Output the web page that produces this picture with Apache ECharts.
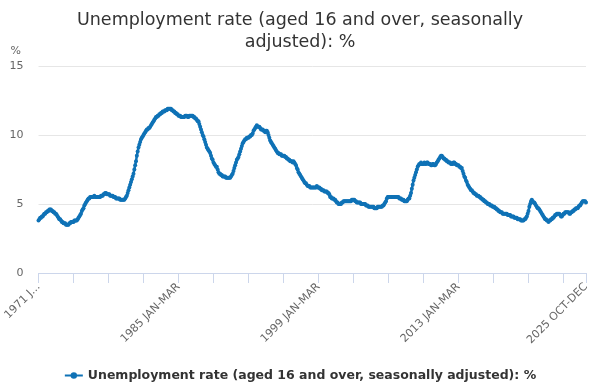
<!DOCTYPE html>
<html>
<head>
<meta charset="utf-8">
<script src="https://cdn.jsdelivr.net/npm/echarts@6/dist/echarts.min.js"></script>
<style>
html,body{margin:0;padding:0;background:#fff;}
#chart{width:600px;height:383px;}
</style>
</head>
<body>
<div id="chart"></div>
<script>
const titleText = 'Unemployment rate (aged 16 and over, seasonally\nadjusted): %';
const seriesName = 'Unemployment rate (aged 16 and over, seasonally adjusted): %';
const firstYear = 1971;
const monthNames = ['JAN','FEB','MAR','APR','MAY','JUN','JUL','AUG','SEP','OCT','NOV','DEC'];
const yTicks = [0, 5, 10, 15];

// Rolling 3-month periods, starting 1971 JAN-MAR, 12 values per year
const rate1970s = [
  3.8,3.9,4.0,4.0,4.1,4.1,4.2,4.3,4.3,4.4,4.4,4.5, // 1971
  4.5,4.6,4.6,4.6,4.5,4.5,4.4,4.4,4.3,4.3,4.2,4.1, // 1972
  4.0,3.9,3.9,3.8,3.7,3.7,3.6,3.6,3.6,3.5,3.5,3.5, // 1973
  3.5,3.6,3.6,3.7,3.7,3.7,3.7,3.8,3.8,3.8,3.8,3.9, // 1974
  4.0,4.1,4.2,4.3,4.5,4.6,4.7,4.9,5.0,5.1,5.2,5.3, // 1975
  5.4,5.4,5.5,5.5,5.5,5.5,5.5,5.6,5.5,5.5,5.5,5.5, // 1976
  5.5,5.5,5.5,5.6,5.6,5.6,5.7,5.7,5.8,5.8,5.7,5.7, // 1977
  5.7,5.7,5.6,5.6,5.6,5.6,5.5,5.5,5.5,5.4,5.4,5.4, // 1978
  5.4,5.4,5.3,5.3,5.3,5.3,5.3,5.3,5.4,5.5,5.6,5.8  // 1979
];
const rate1980s = [
  6.0,6.2,6.4,6.6,6.8,7.0,7.2,7.5,7.8,8.1,8.5,8.8, // 1980
  9.1,9.3,9.5,9.7,9.8,9.9,10.0,10.1,10.2,10.3,10.4,10.4, // 1981
  10.5,10.5,10.6,10.7,10.8,10.9,11.0,11.1,11.2,11.3,11.3,11.4, // 1982
  11.4,11.5,11.5,11.6,11.6,11.7,11.7,11.7,11.8,11.8,11.8,11.9, // 1983
  11.9,11.9,11.9,11.9,11.8,11.8,11.7,11.7,11.6,11.6,11.5,11.5, // 1984
  11.4,11.4,11.4,11.3,11.3,11.3,11.3,11.3,11.4,11.4,11.4,11.3, // 1985
  11.3,11.4,11.4,11.4,11.4,11.4,11.3,11.3,11.2,11.2,11.1,11.0, // 1986
  11.0,10.8,10.6,10.4,10.2,10.0,9.9,9.7,9.5,9.3,9.1,9.0, // 1987
  8.9,8.8,8.7,8.5,8.3,8.2,8.0,7.9,7.8,7.7,7.7,7.5, // 1988
  7.3,7.2,7.2,7.1,7.1,7.0,7.0,7.0,7.0,6.9,6.9,6.9  // 1989
];
const rate1990s = [
  6.9,6.9,6.9,7.0,7.1,7.2,7.4,7.6,7.8,8.0,8.2,8.3, // 1990
  8.4,8.6,8.8,9.0,9.2,9.4,9.5,9.6,9.7,9.7,9.8,9.8, // 1991
  9.8,9.9,9.9,10.0,10.0,10.1,10.3,10.4,10.5,10.6,10.7,10.6, // 1992
  10.6,10.6,10.5,10.4,10.4,10.4,10.3,10.3,10.2,10.3,10.3,10.2, // 1993
  10.0,9.8,9.6,9.5,9.4,9.3,9.2,9.1,9.0,8.9,8.8,8.7, // 1994
  8.7,8.6,8.6,8.6,8.5,8.5,8.5,8.5,8.4,8.4,8.3,8.3, // 1995
  8.2,8.2,8.1,8.1,8.1,8.0,8.1,8.0,7.9,7.8,7.6,7.5, // 1996
  7.3,7.2,7.1,7.0,6.9,6.8,6.7,6.6,6.5,6.5,6.4,6.3, // 1997
  6.3,6.3,6.2,6.2,6.2,6.2,6.2,6.2,6.2,6.2,6.3,6.2, // 1998
  6.2,6.2,6.1,6.1,6.0,6.0,6.0,5.9,5.9,5.9,5.9,5.8  // 1999
];
const rate2000s = [
  5.8,5.7,5.5,5.5,5.4,5.4,5.4,5.3,5.3,5.2,5.1,5.1, // 2000
  5.0,5.0,5.0,5.0,5.1,5.1,5.2,5.2,5.2,5.2,5.2,5.2, // 2001
  5.2,5.2,5.2,5.2,5.3,5.3,5.3,5.3,5.2,5.2,5.1,5.1, // 2002
  5.1,5.1,5.1,5.0,5.0,5.0,5.0,5.0,5.0,4.9,4.9,4.9, // 2003
  4.8,4.8,4.8,4.8,4.8,4.8,4.8,4.7,4.7,4.7,4.7,4.8, // 2004
  4.8,4.8,4.8,4.8,4.8,4.9,4.9,5.0,5.1,5.2,5.4,5.5, // 2005
  5.5,5.5,5.5,5.5,5.5,5.5,5.5,5.5,5.5,5.5,5.5,5.5, // 2006
  5.5,5.4,5.4,5.4,5.3,5.3,5.3,5.2,5.2,5.2,5.2,5.3, // 2007
  5.4,5.4,5.6,5.8,6.1,6.4,6.7,6.9,7.1,7.3,7.5,7.7, // 2008
  7.8,7.9,7.9,8.0,7.9,7.9,7.9,8.0,7.9,7.9,8.0,8.0  // 2009
];
const rate2010s = [
  7.9,7.9,7.9,7.8,7.8,7.9,7.9,7.8,7.8,7.9,8.0,8.1, // 2010
  8.2,8.3,8.4,8.5,8.5,8.4,8.3,8.3,8.2,8.2,8.1,8.1, // 2011
  8.0,8.0,8.0,7.9,7.9,7.9,8.0,8.0,7.9,7.9,7.8,7.8, // 2012
  7.8,7.7,7.7,7.6,7.6,7.4,7.2,7.0,6.9,6.7,6.6,6.4, // 2013
  6.3,6.2,6.1,6.0,6.0,5.9,5.8,5.8,5.7,5.7,5.6,5.6, // 2014
  5.6,5.5,5.5,5.4,5.4,5.3,5.3,5.2,5.2,5.1,5.1,5.0, // 2015
  5.0,5.0,4.9,4.9,4.9,4.8,4.8,4.8,4.7,4.7,4.6,4.6, // 2016
  4.5,4.5,4.4,4.4,4.4,4.3,4.3,4.3,4.3,4.3,4.3,4.2, // 2017
  4.2,4.2,4.2,4.1,4.1,4.1,4.1,4.0,4.0,4.0,4.0,3.9, // 2018
  3.9,3.9,3.9,3.8,3.8,3.8,3.8,3.9,3.9,4.0,4.1,4.3  // 2019
];
const rate2020s = [
  4.5,4.8,5.0,5.2,5.3,5.2,5.1,5.1,5.0,4.9,4.8,4.7, // 2020
  4.7,4.6,4.5,4.4,4.3,4.2,4.1,4.0,3.9,3.9,3.8,3.8, // 2021
  3.7,3.8,3.8,3.9,3.9,4.0,4.0,4.1,4.2,4.2,4.3,4.3, // 2022
  4.3,4.3,4.2,4.1,4.1,4.2,4.3,4.3,4.4,4.4,4.4,4.4, // 2023
  4.4,4.3,4.3,4.4,4.4,4.5,4.5,4.6,4.6,4.7,4.7,4.7, // 2024
  4.8,4.9,4.9,5.0,5.1,5.2,5.2,5.2,5.2,5.1           // 2025 (to OCT-DEC)
];

const values = [].concat(rate1970s, rate1980s, rate1990s, rate2000s, rate2010s, rate2020s);
const categories = values.map(function (v, i) {
  const m = i % 12;
  const y = firstYear + Math.floor(i / 12);
  return y + ' ' + monthNames[m] + '-' + monthNames[(m + 2) % 12];
});
const lastIndex = categories.length - 1;

const chart = echarts.init(document.getElementById('chart'), null, {renderer: 'canvas'});
const FONT = '"DejaVu Sans", Verdana, sans-serif';
const lineColor = '#0f72b6';

chart.setOption({
  animation: false,
  textStyle: {fontFamily: FONT},
  title: {
    text: titleText,
    left: 'center',
    top: 4,
    textStyle: {fontFamily: FONT, fontSize: 17.5, fontWeight: 'normal', color: '#333333', lineHeight: 22}
  },
  legend: {
    top: 364,
    left: 'center',
    itemWidth: 18,
    itemHeight: 8,
    itemGap: 10,
    textStyle: {fontFamily: FONT, fontSize: 12.5, fontWeight: 'bold', color: '#333333'},
    data: [seriesName]
  },
  grid: {left: 38.5, right: 14, top: 66, bottom: 110, containLabel: false},
  xAxis: {
    type: 'category',
    data: categories,
    boundaryGap: false,
    axisLine: {lineStyle: {color: '#ccd6eb', width: 1}},
    axisTick: {
      show: true,
      length: 10,
      lineStyle: {color: '#ccd6eb'},
      interval: function (i) { return i % 42 === 0 || i === lastIndex; }
    },
    axisLabel: {
      rotate: 45,
      fontSize: 11,
      color: '#666666',
      margin: 12,
      fontFamily: FONT,
      interval: function (i) { return i % 168 === 0 || i === lastIndex; },
      formatter: function (v, i) { return i === 0 ? v.slice(0, 6) + '...' : v; }
    },
    splitLine: {show: false}
  },
  yAxis: {
    type: 'value',
    min: yTicks[0],
    max: yTicks[yTicks.length - 1],
    interval: 5,
    name: '%',
    nameLocation: 'end',
    nameGap: 9,
    nameTextStyle: {color: '#666666', fontSize: 11, align: 'left', padding: [0, 0, 0, -28]},
    axisLine: {show: false},
    axisTick: {show: false},
    axisLabel: {color: '#666666', fontSize: 11, margin: 15},
    splitLine: {lineStyle: {color: '#e6e6e6', width: 1}}
  },
  series: [{
    name: seriesName,
    type: 'line',
    data: values,
    showSymbol: true,
    showAllSymbol: true,
    symbol: 'circle',
    symbolSize: 4,
    itemStyle: {color: lineColor},
    lineStyle: {color: lineColor, width: 2.5},
    emphasis: {disabled: true}
  }]
});
</script>
</body>
</html>
